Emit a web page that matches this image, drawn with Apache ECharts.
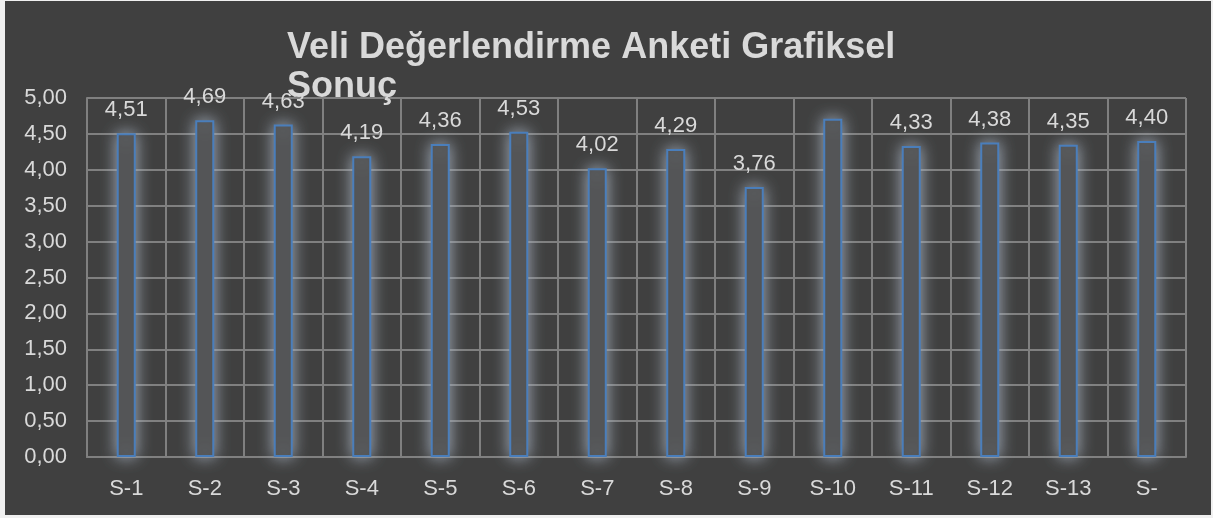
<!DOCTYPE html>
<html lang="tr">
<head>
    <meta charset="UTF-8">
    <title>Veli Değerlendirme Anketi</title>
    <script src="https://cdn.jsdelivr.net/npm/echarts@6/dist/echarts.min.js"></script>
    <style>
        * {
            padding: 0;
            margin: 0;
        }

        body {
            width: 1213px;
            height: 518px;
            background: #f0f0f0;
            position: relative;
            overflow: hidden;
        }

        #chart {
            position: absolute;
            left: 5px;
            top: 1px;
            width: 1206px;
            height: 514px;
            background: #404040;
        }
    </style>
</head>
<body>
    <div id="chart"></div>
    <script>
        // sorular ve ortalama puanlar
        var categories = ['S-1', 'S-2', 'S-3', 'S-4', 'S-5', 'S-6', 'S-7', 'S-8', 'S-9', 'S-10', 'S-11', 'S-12', 'S-13', 'S-'];
        var values = [4.51, 4.69, 4.63, 4.19, 4.36, 4.53, 4.02, 4.29, 3.76, 4.71, 4.33, 4.38, 4.35, 4.40];
        // S-10 etiketi grafikte görünmüyor
        var hiddenLabels = ['S-10'];

        var chart = echarts.init(document.getElementById('chart'));

        function virgul(v) {
            return v.toFixed(2).replace('.', ',');
        }

        var seriesData = values.map(function (v, i) {
            return {
                value: v,
                label: { show: hiddenLabels.indexOf(categories[i]) < 0 }
            };
        });

        chart.setOption({
            backgroundColor: '#404040',
            animation: false,
            title: {
                text: 'Veli Değerlendirme Anketi Grafiksel\nSonuç',
                left: 277,
                top: 23,
                textStyle: {
                    color: '#d9d9d9',
                    fontFamily: 'Liberation Sans',
                    fontWeight: 'bold',
                    fontSize: 36,
                    lineHeight: 39
                }
            },
            grid: {
                left: 82,
                right: 25,
                top: 97,
                bottom: 58
            },
            xAxis: {
                type: 'category',
                data: categories,
                axisTick: { show: false },
                axisLine: { lineStyle: { color: '#808080', width: 2 } },
                axisLabel: {
                    color: '#d9d9d9',
                    fontFamily: 'Liberation Sans',
                    fontSize: 22,
                    margin: 21
                },
                splitLine: {
                    show: true,
                    interval: 0,
                    lineStyle: { color: '#808080', width: 2 }
                }
            },
            yAxis: {
                type: 'value',
                min: 0,
                max: 5,
                interval: 0.5,
                axisLine: { show: true, lineStyle: { color: '#808080', width: 2 } },
                axisTick: { show: false },
                axisLabel: {
                    color: '#d9d9d9',
                    fontFamily: 'Liberation Sans',
                    fontSize: 22,
                    margin: 20,
                    formatter: function (v) { return virgul(v); }
                },
                splitLine: { lineStyle: { color: '#808080', width: 2 } }
            },
            series: [{
                type: 'bar',
                data: seriesData,
                barWidth: 19,
                itemStyle: {
                    color: '#4a4a4a',
                    borderColor: '#4a7ebb',
                    borderWidth: 2,
                    shadowBlur: 16,
                    shadowColor: 'rgba(170,180,195,0.95)'
                },
                label: {
                    show: true,
                    position: 'top',
                    distance: 12,
                    color: '#d9d9d9',
                    fontFamily: 'Liberation Sans',
                    fontSize: 22,
                    formatter: function (p) { return virgul(p.value); }
                }
            }]
        });
    </script>
</body>
</html>
